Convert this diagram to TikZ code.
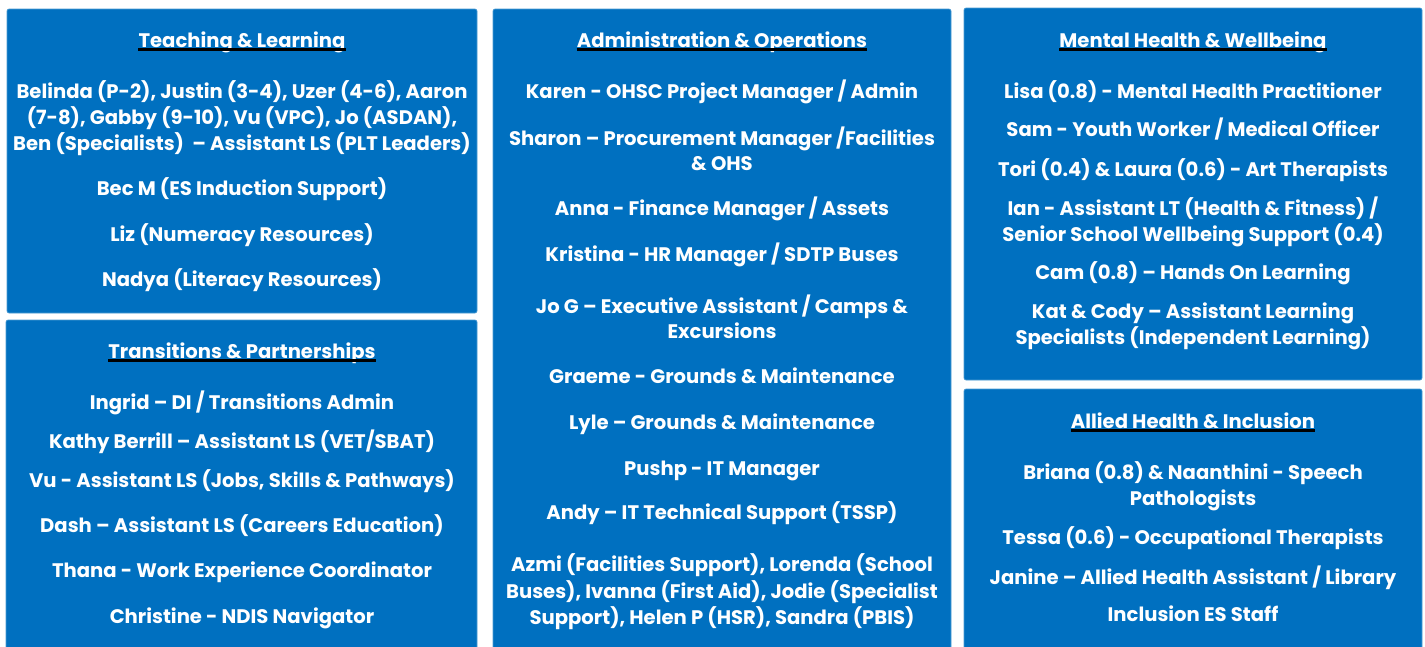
\documentclass[tikz,border=0pt]{standalone}
\usepackage{fontspec}
\setmainfont{Poppins}
\definecolor{boxblue}{HTML}{0070C0}
\tikzset{
  panel/.style={fill=boxblue, draw=boxblue!70!white, line width=0.6pt, rounded corners=2pt},
  entry/.style={text=white, inner sep=0pt, anchor=base, font=\bfseries\fontsize{19.6}{24}\selectfont},
  head/.style={entry},
  underl/.style={line width=2.7pt, black}
}
\begin{document}
\begin{tikzpicture}[x=1pt, y=-1pt]
    \useasboundingbox[fill=white] (0, 0) rectangle (1425, 646);

    % Teaching & Learning
    \draw[panel] (7, 9) rectangle (477, 313);
    \node[head] (tl-head) at (242, 47) {Teaching \& Learning};
    \draw[underl] ([yshift=-2.5pt]tl-head.base west) -- ([yshift=-2.5pt]tl-head.base east);
    \node[entry] (tl-1a) at (242, 98) {Belinda (P-2), Justin (3-4), Uzer (4-6), Aaron};
    \node[entry] (tl-1b) at (242, 124) {(7-8), Gabby (9-10), Vu (VPC), Jo (ASDAN),};
    \node[entry] (tl-1c) at (242, 150) {Ben (Specialists) \ – Assistant LS (PLT Leaders)};
    \node[entry] (tl-2) at (242, 195) {Bec M (ES Induction Support)};
    \node[entry] (tl-3) at (242, 241) {Liz (Numeracy Resources)};
    \node[entry] (tl-4) at (242, 286) {Nadya (Literacy Resources)};

    % Transitions & Partnerships
    \draw[panel] (6, 320) rectangle (477, 652);
    \node[head] (tp-head) at (242, 358) {Transitions \& Partnerships};
    \draw[underl] ([yshift=-2.5pt]tp-head.base west) -- ([yshift=-2.5pt]tp-head.base east);
    \node[entry] (tp-1) at (242, 409) {Ingrid – DI / Transitions Admin};
    \node[entry] (tp-2) at (242, 448) {Kathy Berrill – Assistant LS (VET/SBAT)};
    \node[entry] (tp-3) at (242, 487) {Vu - Assistant LS (Jobs, Skills \& Pathways)};
    \node[entry] (tp-4) at (242, 532) {Dash – Assistant LS (Careers Education)};
    \node[entry] (tp-5) at (242, 577) {Thana - Work Experience Coordinator};
    \node[entry] (tp-6) at (242, 623) {Christine - NDIS Navigator};

    % Administration & Operations
    \draw[panel] (493, 9) rectangle (951, 652);
    \node[head] (ao-head) at (722, 47) {Administration \& Operations};
    \draw[underl] ([yshift=-2.5pt]ao-head.base west) -- ([yshift=-2.5pt]ao-head.base east);
    \node[entry] (ao-1) at (722, 98) {Karen - OHSC Project Manager / Admin};
    \node[entry] (ao-2a) at (722, 145) {Sharon – Procurement Manager /Facilities};
    \node[entry] (ao-2b) at (722, 170) {\& OHS};
    \node[entry] (ao-3) at (722, 215) {Anna - Finance Manager / Assets};
    \node[entry] (ao-4) at (722, 261) {Kristina - HR Manager / SDTP Buses};
    \node[entry] (ao-5a) at (722, 313) {Jo G – Executive Assistant / Camps \&};
    \node[entry] (ao-5b) at (722, 338) {Excursions};
    \node[entry] (ao-6) at (722, 383) {Graeme - Grounds \& Maintenance};
    \node[entry] (ao-7) at (722, 429) {Lyle – Grounds \& Maintenance};
    \node[entry] (ao-8) at (722, 475) {Pushp - IT Manager};
    \node[entry] (ao-9) at (722, 519) {Andy – IT Technical Support (TSSP)};
    \node[entry] (ao-10a) at (722, 571) {Azmi (Facilities Support), Lorenda (School};
    \node[entry] (ao-10b) at (722, 598) {Buses), Ivanna (First Aid), Jodie (Specialist};
    \node[entry] (ao-10c) at (722, 624) {Support), Helen P (HSR), Sandra (PBIS)};

    % Mental Health & Wellbeing
    \draw[panel] (964, 8) rectangle (1422, 380);
    \node[head] (mh-head) at (1193, 47) {Mental Health \& Wellbeing};
    \draw[underl] ([yshift=-2.5pt]mh-head.base west) -- ([yshift=-2.5pt]mh-head.base east);
    \node[entry] (mh-1) at (1193, 98) {Lisa (0.8) - Mental Health Practitioner};
    \node[entry] (mh-2) at (1193, 136) {Sam - Youth Worker / Medical Officer};
    \node[entry] (mh-3) at (1193, 176) {Tori (0.4) \& Laura (0.6) - Art Therapists};
    \node[entry] (mh-4a) at (1193, 215) {Ian - Assistant LT (Health \& Fitness) /};
    \node[entry] (mh-4b) at (1193, 241) {Senior School Wellbeing Support (0.4)};
    \node[entry] (mh-5) at (1193, 279) {Cam (0.8) – Hands On Learning};
    \node[entry] (mh-6a) at (1193, 318) {Kat \& Cody – Assistant Learning};
    \node[entry] (mh-6b) at (1193, 344) {Specialists (Independent Learning)};

    % Allied Health & Inclusion
    \draw[panel] (964, 389) rectangle (1422, 652);
    \node[head] (ah-head) at (1193, 428) {Allied Health \& Inclusion};
    \draw[underl] ([yshift=-2.5pt]ah-head.base west) -- ([yshift=-2.5pt]ah-head.base east);
    \node[entry] (ah-1a) at (1193, 479) {Briana (0.8) \& Naanthini - Speech};
    \node[entry] (ah-1b) at (1193, 505) {Pathologists};
    \node[entry] (ah-2) at (1193, 544) {Tessa (0.6) - Occupational Therapists};
    \node[entry] (ah-3) at (1193, 584) {Janine – Allied Health Assistant / Library};
    \node[entry] (ah-4) at (1193, 621) {Inclusion ES Staff};
\end{tikzpicture}
\end{document}
